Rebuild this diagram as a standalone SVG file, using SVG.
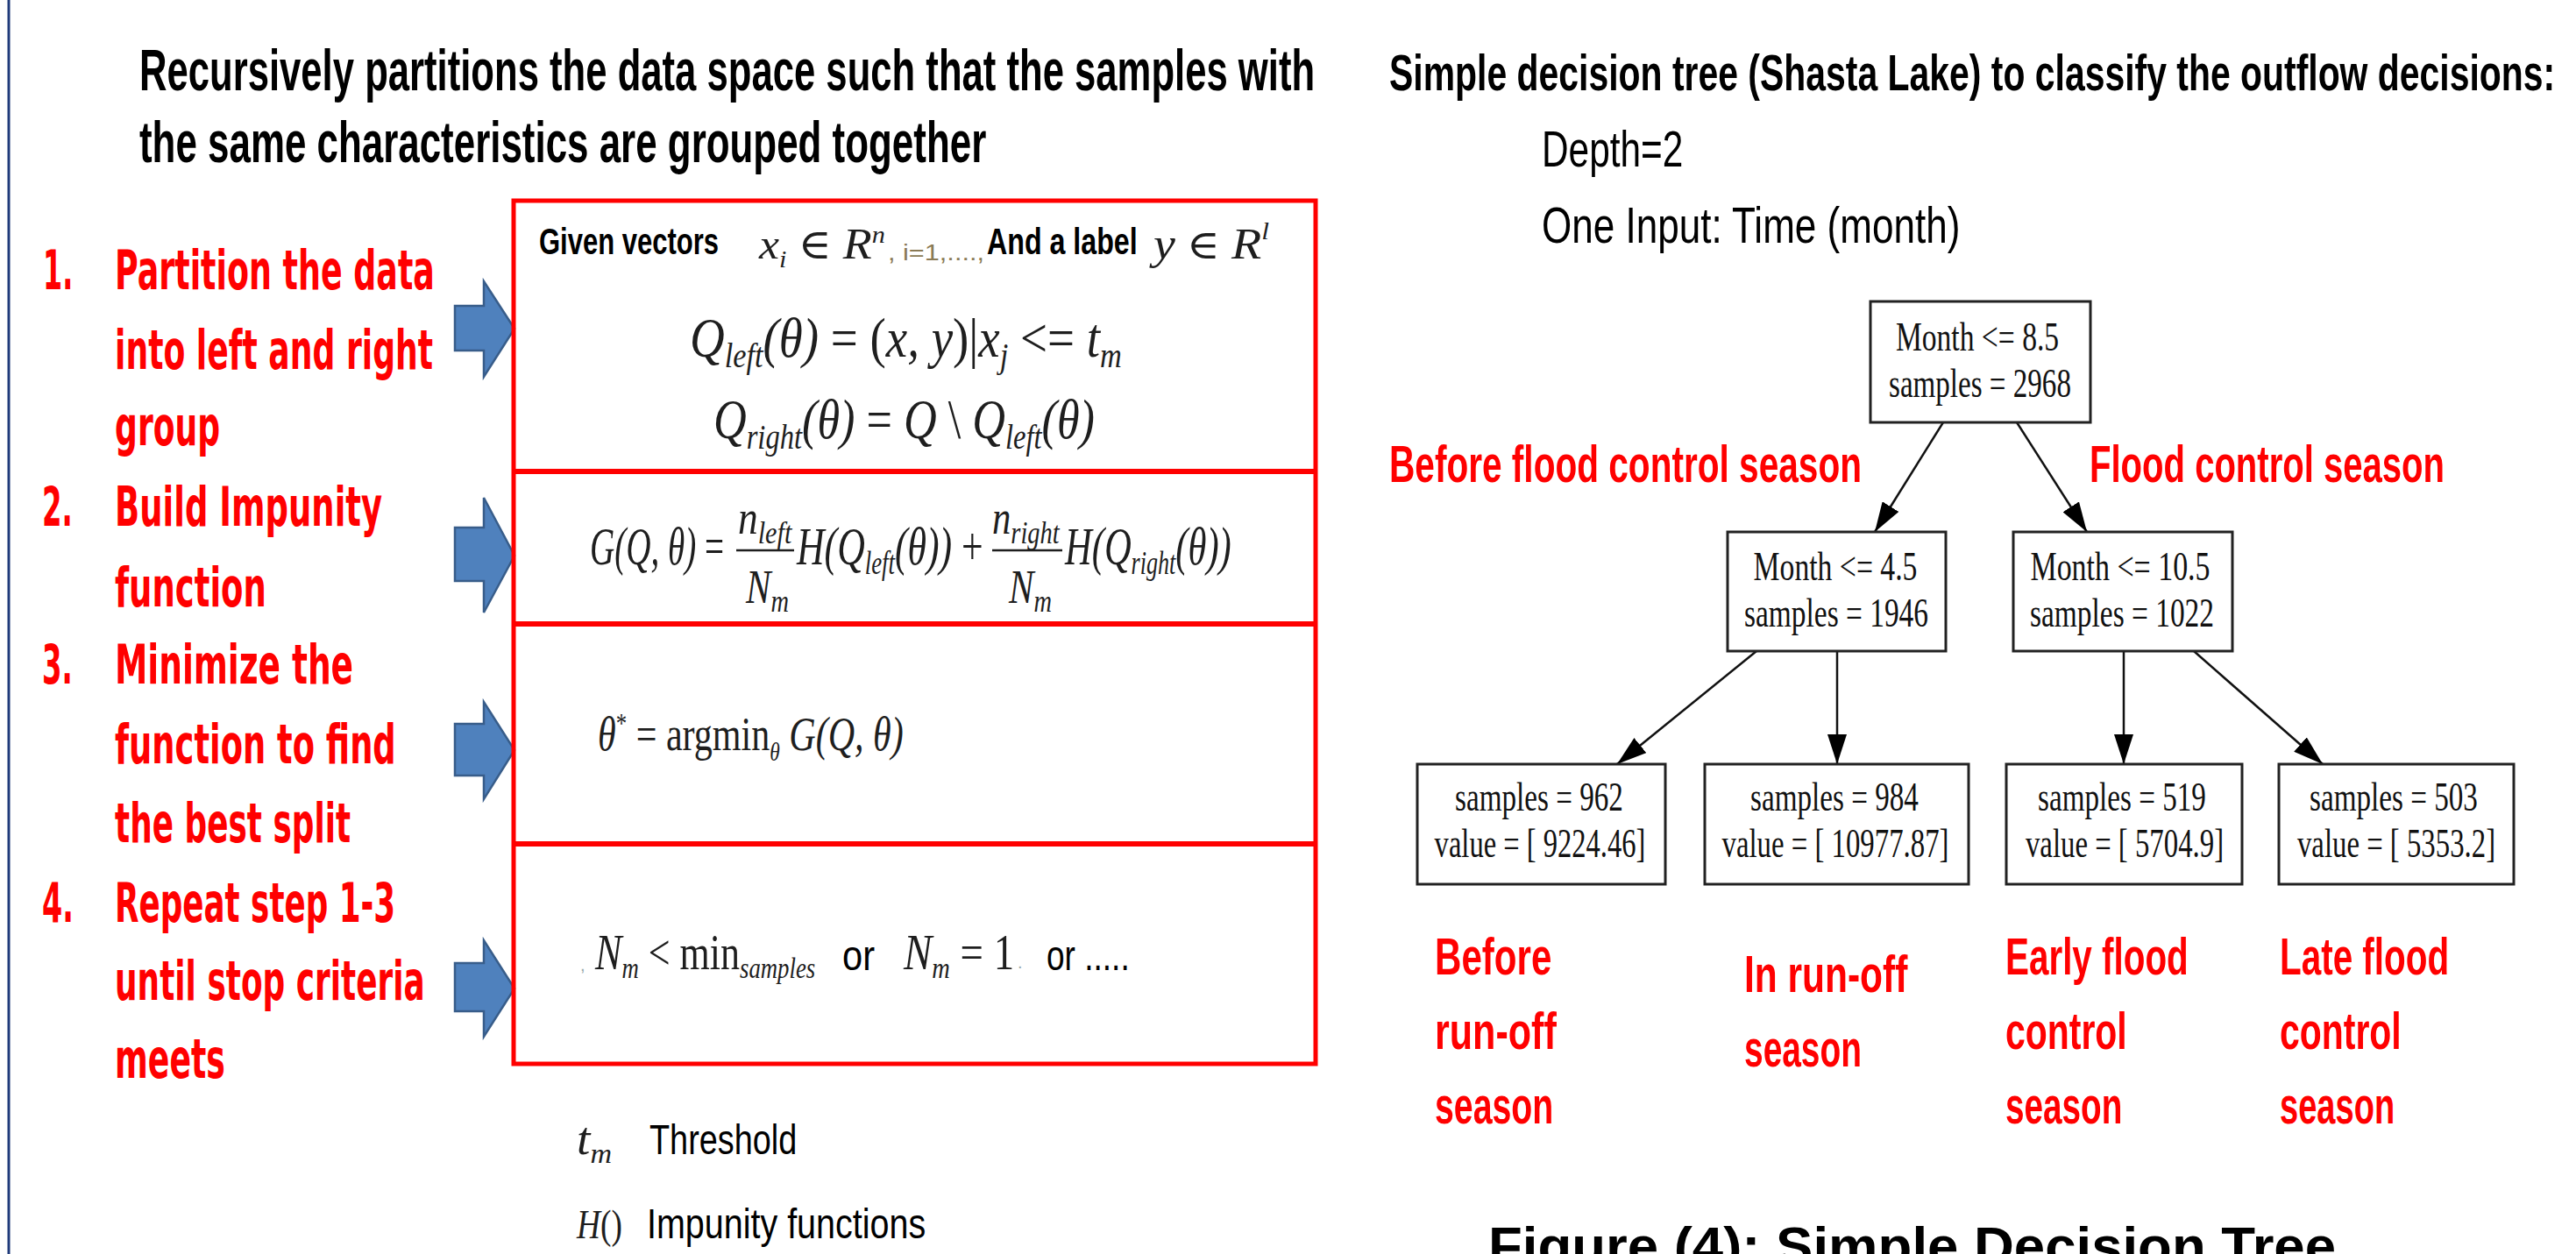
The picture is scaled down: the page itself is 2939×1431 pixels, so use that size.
<svg xmlns="http://www.w3.org/2000/svg" width="2939" height="1431" viewBox="0 0 2939 1431">
<style>
.ttl{font-family:"Liberation Sans",Arial,sans-serif;font-weight:bold;fill:#000}
.reg{font-family:"Liberation Sans",Arial,sans-serif;fill:#000}
.step{font-family:"DejaVu Sans",Verdana,sans-serif;font-weight:bold;font-size:62px;fill:#ff0000}
.lbl{font-family:"Liberation Sans",Arial,sans-serif;font-weight:bold;font-size:60px;fill:#ff0000}
.mi{font-family:"Liberation Serif","DejaVu Serif",serif;font-style:italic;fill:#1e1e1e}
.mu{font-family:"Liberation Serif","DejaVu Serif",serif;fill:#1e1e1e}
.tree{font-family:"Liberation Serif","Times New Roman",serif;font-size:47px;fill:#111;text-anchor:middle}
.node{fill:#fff;stroke:#222;stroke-width:3}
.edge{stroke:#111;stroke-width:2.5;fill:none;marker-end:url(#ah)}
.barrow{fill:#4f81bd;stroke:#385d8a;stroke-width:2.5}
.redbox{fill:none;stroke:#ff0000;stroke-width:5}
.redline{stroke:#ff0000;stroke-width:6}
.bar{stroke:#1e1e1e;stroke-width:2.5}
</style>
<defs>
<marker id="ah" markerUnits="userSpaceOnUse" markerWidth="36" markerHeight="22" refX="34" refY="11" orient="auto">
<path d="M0,0 L34,11 L0,22 z" fill="#000"/>
</marker>
</defs>
<rect x="0" y="0" width="2939" height="1431" fill="#fff"/>
<line x1="10" y1="0" x2="10" y2="1431" stroke="#1f3a7a" stroke-width="3"/>

<!-- Left heading -->
<g id="left-title" transform="scale(0.66,1)">
<text class="ttl" font-size="66" x="240.9" y="103" textLength="2032" lengthAdjust="spacingAndGlyphs">Recursively partitions the data space such that the samples with</text>
<text class="ttl" font-size="66" x="240.9" y="185" textLength="1464" lengthAdjust="spacingAndGlyphs">the same characteristics are grouped together</text>
</g>

<!-- Steps -->
<g id="steps" transform="scale(0.58,1)">
<text class="step" x="84.5" y="330" textLength="59" lengthAdjust="spacingAndGlyphs">1.</text>
<text class="step" x="225.9" y="330" textLength="629" lengthAdjust="spacingAndGlyphs">Partition the data</text>
<text class="step" x="225.9" y="421" textLength="626" lengthAdjust="spacingAndGlyphs">into left and right</text>
<text class="step" x="225.9" y="508" textLength="207" lengthAdjust="spacingAndGlyphs">group</text>
<text class="step" x="82.8" y="600" textLength="60" lengthAdjust="spacingAndGlyphs">2.</text>
<text class="step" x="225.9" y="600" textLength="526" lengthAdjust="spacingAndGlyphs">Build Impunity</text>
<text class="step" x="225.9" y="692" textLength="298" lengthAdjust="spacingAndGlyphs">function</text>
<text class="step" x="82.8" y="780" textLength="60" lengthAdjust="spacingAndGlyphs">3.</text>
<text class="step" x="225.9" y="780" textLength="469" lengthAdjust="spacingAndGlyphs">Minimize the</text>
<text class="step" x="225.9" y="871" textLength="553" lengthAdjust="spacingAndGlyphs">function to find</text>
<text class="step" x="225.9" y="961" textLength="464" lengthAdjust="spacingAndGlyphs">the best split</text>
<text class="step" x="82.8" y="1052" textLength="62" lengthAdjust="spacingAndGlyphs">4.</text>
<text class="step" x="225.9" y="1052" textLength="552" lengthAdjust="spacingAndGlyphs">Repeat step 1-3</text>
<text class="step" x="225.9" y="1141" textLength="610" lengthAdjust="spacingAndGlyphs">until stop criteria</text>
<text class="step" x="225.9" y="1230" textLength="217" lengthAdjust="spacingAndGlyphs">meets</text>
</g>

<!-- Block arrows -->
<g id="block-arrows">
<polygon class="barrow" points="519,349 552,349 552,321 587,375 552,430 552,400 519,400"/>
<polygon class="barrow" points="519,602 552,602 552,568 587,634 552,699 552,663 519,663"/>
<polygon class="barrow" points="519,826 552,826 552,801 587,856 552,912 552,885 519,885"/>
<polygon class="barrow" points="519,1099 552,1099 552,1073 587,1128 552,1183 552,1154 519,1154"/>
</g>

<!-- Red formula box -->
<g id="formula-box">
<rect class="redbox" x="586" y="229" width="915" height="985"/>
<line class="redline" x1="586" y1="538" x2="1501" y2="538"/>
<line class="redline" x1="586" y1="712" x2="1501" y2="712"/>
<line class="redline" x1="586" y1="963" x2="1501" y2="963"/>
</g>

<!-- Row 1 -->
<g id="row-partition">
<text class="ttl" font-size="42" transform="translate(615,290) scale(0.74,1)" x="0" y="0" textLength="277" lengthAdjust="spacingAndGlyphs">Given vectors</text>
<text class="mi" font-size="48" x="866" y="295" textLength="144" lengthAdjust="spacingAndGlyphs">x<tspan font-size="28" dy="10">i</tspan><tspan dy="-10" font-style="normal"> ∈ </tspan><tspan font-size="50">R</tspan><tspan font-size="28" dy="-18">n</tspan></text>
<text class="reg" font-size="26" x="1013" y="297" style="fill:#8a7a55" textLength="110" lengthAdjust="spacingAndGlyphs">, i=1,....,</text>
<text class="ttl" font-size="42" transform="translate(1126,290) scale(0.77,1)" x="0" y="0" textLength="223" lengthAdjust="spacingAndGlyphs">And a label</text>
<text class="mi" font-size="50" x="1316" y="295" textLength="132" lengthAdjust="spacingAndGlyphs">y<tspan font-style="normal" font-size="46"> ∈ </tspan>R<tspan font-size="28" dy="-22">l</tspan></text>

<text class="mi" font-size="64" transform="translate(787,407) scale(0.86,1)" x="0" y="0" textLength="573" lengthAdjust="spacingAndGlyphs">Q<tspan font-size="40" dy="12">left</tspan><tspan dy="-12">(θ)</tspan><tspan font-style="normal"> = (</tspan><tspan>x, y</tspan><tspan font-style="normal">)|</tspan><tspan>x</tspan><tspan font-size="40" dy="12">j</tspan><tspan dy="-12" font-style="normal"> &lt;= </tspan><tspan>t</tspan><tspan font-size="40" dy="12">m</tspan></text>

<text class="mi" font-size="64" transform="translate(814,500) scale(0.81,1)" x="0" y="0" textLength="537" lengthAdjust="spacingAndGlyphs">Q<tspan font-size="40" dy="12">right</tspan><tspan dy="-12">(θ)</tspan><tspan font-style="normal"> = </tspan><tspan>Q</tspan><tspan font-style="normal"> \ </tspan><tspan>Q</tspan><tspan font-size="40" dy="12">left</tspan><tspan dy="-12">(θ)</tspan></text>
</g>

<!-- Row 2 -->
<g id="row-impurity">
<text class="mi" font-size="62" transform="translate(673,644) scale(0.62,1)" x="0" y="0" textLength="247" lengthAdjust="spacingAndGlyphs">G(Q, θ)<tspan font-style="normal"> =</tspan></text>
<text class="mi" font-size="54" transform="translate(842,609) scale(0.84,1)" x="0" y="0" textLength="73" lengthAdjust="spacingAndGlyphs">n<tspan font-size="36" dy="11">left</tspan></text>
<line class="bar" x1="840" y1="628" x2="906" y2="628"/>
<text class="mi" font-size="54" transform="translate(851,688) scale(0.79,1)" x="0" y="0" textLength="62" lengthAdjust="spacingAndGlyphs">N<tspan font-size="36" dy="10">m</tspan></text>
<text class="mi" font-size="62" transform="translate(909,644) scale(0.70,1)" x="0" y="0" textLength="304" lengthAdjust="spacingAndGlyphs">H(Q<tspan font-size="38" dy="11">left</tspan><tspan dy="-11">(θ))</tspan><tspan font-style="normal"> +</tspan></text>
<text class="mi" font-size="54" transform="translate(1132,609) scale(0.79,1)" x="0" y="0" textLength="97" lengthAdjust="spacingAndGlyphs">n<tspan font-size="36" dy="11">right</tspan></text>
<line class="bar" x1="1132" y1="628" x2="1212" y2="628"/>
<text class="mi" font-size="54" transform="translate(1151,688) scale(0.79,1)" x="0" y="0" textLength="62" lengthAdjust="spacingAndGlyphs">N<tspan font-size="36" dy="10">m</tspan></text>
<text class="mi" font-size="62" transform="translate(1215,644) scale(0.68,1)" x="0" y="0" textLength="279" lengthAdjust="spacingAndGlyphs">H(Q<tspan font-size="38" dy="11">right</tspan><tspan dy="-11">(θ))</tspan></text>
</g>

<!-- Row 3 -->
<g id="row-minimize">
<text class="mi" font-size="54" transform="translate(682,856) scale(0.77,1)" x="0" y="0" textLength="453" lengthAdjust="spacingAndGlyphs">θ<tspan font-size="32" dy="-20" font-style="normal">*</tspan><tspan dy="20" font-style="normal"> = argmin</tspan><tspan font-size="30" dy="12">θ</tspan><tspan dy="-12"> G(Q, θ)</tspan></text>
</g>

<!-- Row 4 -->
<g id="row-stop">
<text class="reg" font-size="20" x="662" y="1108" style="fill:#9aa">,</text>
<text class="mi" font-size="58" transform="translate(679,1106) scale(0.78,1)" x="0" y="0" textLength="322" lengthAdjust="spacingAndGlyphs">N<tspan font-size="34" dy="10">m</tspan><tspan dy="-10" font-style="normal" font-size="56"> &lt; min</tspan><tspan font-size="34" dy="10">samples</tspan></text>
<text class="reg" font-size="48" transform="translate(961,1107) scale(0.86,1)" x="0" y="0" textLength="43" lengthAdjust="spacingAndGlyphs">or</text>
<text class="mi" font-size="58" transform="translate(1031,1106) scale(0.83,1)" x="0" y="0" textLength="152" lengthAdjust="spacingAndGlyphs">N<tspan font-size="34" dy="10">m</tspan><tspan dy="-10" font-style="normal" font-size="56"> = 1</tspan></text>
<text class="reg" font-size="20" x="1161" y="1105" style="fill:#9aa">.</text>
<text class="reg" font-size="48" transform="translate(1194,1107) scale(0.77,1)" x="0" y="0" textLength="123" lengthAdjust="spacingAndGlyphs">or .....</text>
</g>

<!-- Legend -->
<g id="legend">
<text class="mi" font-size="52" x="658" y="1317" textLength="40" lengthAdjust="spacingAndGlyphs">t<tspan font-size="32" dy="10">m</tspan></text>
<text class="reg" font-size="48" transform="translate(741,1317) scale(0.79,1)" x="0" y="0" textLength="213" lengthAdjust="spacingAndGlyphs">Threshold</text>
<text class="mi" font-size="46" transform="translate(658,1413) scale(0.81,1)" x="0" y="0" textLength="64" lengthAdjust="spacingAndGlyphs">H<tspan font-style="normal">()</tspan></text>
<text class="reg" font-size="48" transform="translate(738,1413) scale(0.82,1)" x="0" y="0" textLength="388" lengthAdjust="spacingAndGlyphs">Impunity functions</text>
</g>

<!-- Right heading -->
<g id="right-title">
<text class="ttl" font-size="58" transform="translate(1585,103) scale(0.6,1)" x="0" y="0" textLength="2217" lengthAdjust="spacingAndGlyphs">Simple decision tree (Shasta Lake) to classify the outflow decisions:</text>
<text class="reg" font-size="58" transform="translate(1759,190) scale(0.73,1)" x="0" y="0" textLength="221" lengthAdjust="spacingAndGlyphs">Depth=2</text>
<text class="reg" font-size="58" transform="translate(1759,277) scale(0.74,1)" x="0" y="0" textLength="645" lengthAdjust="spacingAndGlyphs">One Input: Time (month)</text>
</g>

<!-- Connectors -->
<g id="connectors">
<line class="edge" x1="2217" y1="482" x2="2139" y2="607"/>
<line class="edge" x1="2301" y1="482" x2="2381" y2="607"/>
<line class="edge" x1="2004" y1="743" x2="1845" y2="872"/>
<line class="edge" x1="2096" y1="743" x2="2096" y2="872"/>
<line class="edge" x1="2423" y1="743" x2="2423" y2="872"/>
<line class="edge" x1="2503" y1="743" x2="2650" y2="872"/>
</g>

<!-- Tree nodes -->
<g id="node-root">
<rect class="node" x="2134" y="344" width="251" height="138"/>
<text class="tree" transform="translate(2256,400) scale(0.7,1)" x="0" y="0" textLength="266" lengthAdjust="spacingAndGlyphs">Month &lt;= 8.5</text>
<text class="tree" transform="translate(2259,453) scale(0.7,1)" x="0" y="0" textLength="297" lengthAdjust="spacingAndGlyphs">samples = 2968</text>
</g>
<g id="node-left">
<rect class="node" x="1971" y="607" width="249" height="136"/>
<text class="tree" transform="translate(2094,662) scale(0.7,1)" x="0" y="0" textLength="267" lengthAdjust="spacingAndGlyphs">Month &lt;= 4.5</text>
<text class="tree" transform="translate(2095,715) scale(0.7,1)" x="0" y="0" textLength="300" lengthAdjust="spacingAndGlyphs">samples = 1946</text>
</g>
<g id="node-right">
<rect class="node" x="2297" y="607" width="250" height="136"/>
<text class="tree" transform="translate(2419,662) scale(0.7,1)" x="0" y="0" textLength="293" lengthAdjust="spacingAndGlyphs">Month &lt;= 10.5</text>
<text class="tree" transform="translate(2421,715) scale(0.7,1)" x="0" y="0" textLength="300" lengthAdjust="spacingAndGlyphs">samples = 1022</text>
</g>
<g id="leaf-1">
<rect class="node" x="1617" y="872" width="283" height="137"/>
<text class="tree" transform="translate(1756,925) scale(0.7,1)" x="0" y="0" textLength="274" lengthAdjust="spacingAndGlyphs">samples = 962</text>
<text class="tree" transform="translate(1757,978) scale(0.7,1)" x="0" y="0" textLength="344" lengthAdjust="spacingAndGlyphs">value = [ 9224.46]</text>
</g>
<g id="leaf-2">
<rect class="node" x="1945" y="872" width="301" height="137"/>
<text class="tree" transform="translate(2093,925) scale(0.7,1)" x="0" y="0" textLength="274" lengthAdjust="spacingAndGlyphs">samples = 984</text>
<text class="tree" transform="translate(2094,978) scale(0.7,1)" x="0" y="0" textLength="370" lengthAdjust="spacingAndGlyphs">value = [ 10977.87]</text>
</g>
<g id="leaf-3">
<rect class="node" x="2289" y="872" width="269" height="137"/>
<text class="tree" transform="translate(2421,925) scale(0.7,1)" x="0" y="0" textLength="274" lengthAdjust="spacingAndGlyphs">samples = 519</text>
<text class="tree" transform="translate(2424,978) scale(0.7,1)" x="0" y="0" textLength="323" lengthAdjust="spacingAndGlyphs">value = [ 5704.9]</text>
</g>
<g id="leaf-4">
<rect class="node" x="2600" y="872" width="268" height="137"/>
<text class="tree" transform="translate(2731,925) scale(0.7,1)" x="0" y="0" textLength="274" lengthAdjust="spacingAndGlyphs">samples = 503</text>
<text class="tree" transform="translate(2734,978) scale(0.7,1)" x="0" y="0" textLength="323" lengthAdjust="spacingAndGlyphs">value = [ 5353.2]</text>
</g>

<!-- Red annotations -->
<g id="branch-labels">
<text class="lbl" font-size="58" transform="translate(1585,550) scale(0.7,1)" x="0" y="0" textLength="770" lengthAdjust="spacingAndGlyphs">Before flood control season</text>
<text class="lbl" font-size="58" transform="translate(2384,550) scale(0.69,1)" x="0" y="0" textLength="587" lengthAdjust="spacingAndGlyphs">Flood control season</text>
</g>
<g id="leaf-labels" transform="scale(0.68,1)">
<text class="lbl" x="2407.4" y="1112" textLength="196" lengthAdjust="spacingAndGlyphs">Before</text>
<text class="lbl" x="2407.4" y="1197" textLength="204" lengthAdjust="spacingAndGlyphs">run-off</text>
<text class="lbl" x="2407.4" y="1282" textLength="199" lengthAdjust="spacingAndGlyphs">season</text>
<text class="lbl" x="2926.5" y="1132" textLength="274" lengthAdjust="spacingAndGlyphs">In run-off</text>
<text class="lbl" x="2926.5" y="1217" textLength="197" lengthAdjust="spacingAndGlyphs">season</text>
<text class="lbl" x="3364.7" y="1112" textLength="307" lengthAdjust="spacingAndGlyphs">Early flood</text>
<text class="lbl" x="3364.7" y="1197" textLength="204" lengthAdjust="spacingAndGlyphs">control</text>
<text class="lbl" x="3364.7" y="1282" textLength="196" lengthAdjust="spacingAndGlyphs">season</text>
<text class="lbl" x="3825" y="1112" textLength="284" lengthAdjust="spacingAndGlyphs">Late flood</text>
<text class="lbl" x="3825" y="1197" textLength="204" lengthAdjust="spacingAndGlyphs">control</text>
<text class="lbl" x="3825" y="1282" textLength="193" lengthAdjust="spacingAndGlyphs">season</text>
</g>

<g id="caption">
<text class="ttl" font-size="62" x="1698" y="1443" textLength="967" lengthAdjust="spacingAndGlyphs">Figure (4): Simple Decision Tree</text>
</g>
</svg>
